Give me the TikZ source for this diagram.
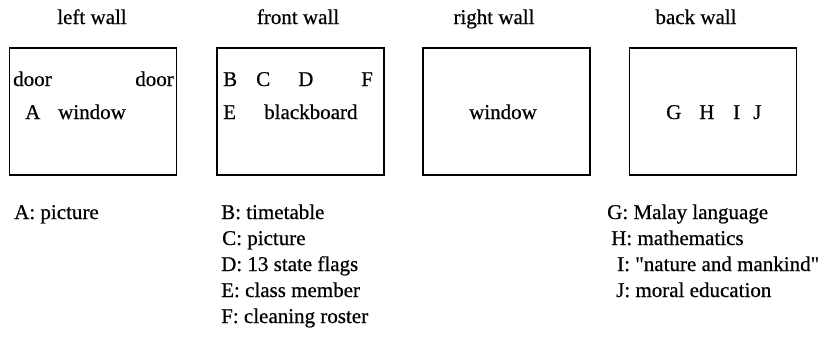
\documentclass[tikz,border=0pt]{standalone}
\usepackage{fontspec}
\setmainfont{Liberation Serif}[BoldFont=Liberation Serif, BoldFeatures={FakeBold=0.6}]
\begin{document}
\begin{tikzpicture}[x=1pt,y=-1pt,
  every node/.style={inner sep=0pt, font=\fontsize{21}{24}\selectfont\bfseries},
  wall/.style={draw, line width=1.1pt, minimum width=167pt, minimum height=127pt},
  txt/.style={anchor=base west},
  ttl/.style={anchor=base}]
\useasboundingbox (0,0) rectangle (824,346);
% titles
\node[ttl] (t1) at (92,24) {left wall};
\node[ttl] (t2) at (298,24) {front wall};
\node[ttl] (t3) at (494,24) {right wall};
\node[ttl] (t4) at (696,24) {back wall};
% walls
\node[wall] (lw) at (93,111.5) {};
\node[wall] (fw) at (300.5,111.5) {};
\node[wall] (rw) at (506.5,111.5) {};
\node[wall] (bw) at (713,111.5) {};
% left wall content
\node[txt] (d1) at (13,86) {door};
\node[anchor=base east] (d2) at (174,86) {door};
\node[txt] (a) at (25,119) {A};
\node[txt] (w1) at (58,119) {window};
% front wall content
\node[txt] (b) at (223,86) {B};
\node[txt] (c) at (256,86) {C};
\node[txt] (d) at (298,86) {D};
\node[txt] (f) at (361,86) {F};
\node[txt] (e) at (223,119) {E};
\node[txt] (bb) at (264,119) {blackboard};
% right wall content
\node[ttl] (w2) at (503,119) {window};
% back wall content
\node[txt] (g) at (666,119) {G};
\node[txt] (h) at (699,119) {H};
\node[txt] (i) at (733,119) {I};
\node[txt] (j) at (753,119) {J};
% legends
\node[txt] (la) at (14,219) {A: picture};
\node[txt] (lb) at (221,219) {B: timetable};
\node[txt] (lc) at (222,245) {C: picture};
\node[txt] (ld) at (221,271) {D: 13 state flags};
\node[txt] (le) at (221,297) {E: class member};
\node[txt] (lf) at (221,323) {F: cleaning roster};
\node[txt] (lg) at (607,219) {G: Malay language};
\node[txt] (lh) at (611,245) {H: mathematics};
\node[txt] (li) at (617,271) {I: \textquotedbl nature and mankind\textquotedbl};
\node[txt] (lj) at (616,297) {J: moral education};
\end{tikzpicture}
\end{document}
